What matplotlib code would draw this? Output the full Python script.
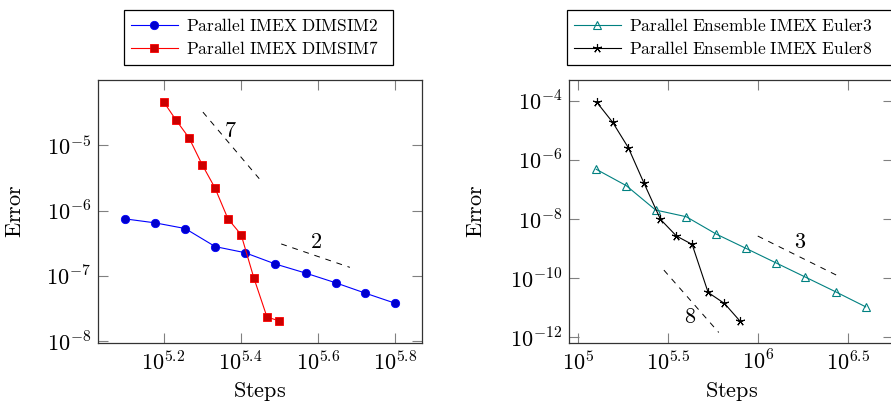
"""Error vs steps for parallel IMEX DIMSIM and ensemble IMEX Euler schemes."""

import matplotlib

matplotlib.use("Agg")
import matplotlib.pyplot as plt
import numpy as np
from matplotlib.ticker import FixedLocator, NullLocator

# left panel: log10(steps), log10(error)
dimsim2_logsteps = [5.100, 5.178, 5.256, 5.334, 5.411, 5.490, 5.568, 5.646, 5.723, 5.800]
dimsim2_logerr = [-6.128, -6.189, -6.276, -6.553, -6.646, -6.820, -6.958, -7.107, -7.266, -7.420]
dimsim7_logsteps = [5.200, 5.233, 5.266, 5.300, 5.333, 5.367, 5.401, 5.434, 5.468, 5.500]
dimsim7_logerr = [-4.333, -4.620, -4.887, -5.297, -5.651, -6.128, -6.369, -7.031, -7.631, -7.692]

# right panel
euler3_logsteps = [5.100, 5.267, 5.430, 5.600, 5.767, 5.933, 6.098, 6.263, 6.431, 6.598]
euler3_logerr = [-6.319, -6.872, -7.695, -7.921, -8.508, -8.993, -9.478, -9.963, -10.459, -10.967]
euler8_logsteps = [5.103, 5.191, 5.278, 5.365, 5.457, 5.546, 5.633, 5.722, 5.813, 5.898]
euler8_logerr = [-4.052, -4.729, -5.586, -6.782, -8.011, -8.575, -8.857, -10.482, -10.854, -11.441]

# slope guides: (log x pair, log y pair, label, label log x, label log y)
left_slopes = [
    ([5.302, 5.448], [-4.492, -5.512], "7", 5.372, -4.785),
    ([5.505, 5.683], [-6.512, -6.871], "2", 5.594, -6.477),
]
right_slopes = [
    ([5.998, 6.435], [-8.575, -9.895], "3", 6.235, -8.79),
    ([5.476, 5.781], [-9.726, -11.834], "8", 5.624, -11.306),
]

left_xticks = [5.2, 5.4, 5.6, 5.8]
left_yticks = [-8, -7, -6, -5]
right_xticks = [5.0, 5.5, 6.0, 6.5]
right_yticks = [-12, -10, -8, -6, -4]

plt.rcParams["mathtext.fontset"] = "cm"

W, H = 891, 404
BIG = 16


def tex(s):
    return r"$\mathrm{" + s.replace(" ", r"\ ") + "}$"


def exp_label(e):
    return r"$10^{" + f"{e:g}" + "}$"


def style_axes(ax, xticks, yticks, xlim, ylim, ylab_x):
    ax.set_xscale("log")
    ax.set_yscale("log")
    ax.set_xlim(10 ** xlim[0], 10 ** xlim[1])
    ax.set_ylim(10 ** ylim[0], 10 ** ylim[1])
    ax.xaxis.set_major_locator(FixedLocator([10.0 ** t for t in xticks]))
    ax.yaxis.set_major_locator(FixedLocator([10.0 ** t for t in yticks]))
    ax.xaxis.set_minor_locator(NullLocator())
    ax.yaxis.set_minor_locator(NullLocator())
    ax.set_xticklabels([exp_label(t) for t in xticks])
    ax.set_yticklabels([exp_label(t) for t in yticks])
    ax.tick_params(
        which="major", direction="in", length=7, width=0.8, color="#808080",
        top=True, right=True, labelsize=BIG, pad=5,
    )
    for sp in ax.spines.values():
        sp.set_linewidth(0.9)
        sp.set_color("#333333")
    ax.set_xlabel(tex("Steps"), fontsize=BIG, va="bottom")
    ax.xaxis.set_label_coords(0.5, (343 - 403) / 263)
    ax.set_ylabel(tex("Error"), fontsize=BIG, va="center")
    ax.yaxis.set_label_coords(ylab_x, 0.5)


def draw_slopes(ax, slopes):
    for xs, ys, lab, lx, ly in slopes:
        ax.plot(10 ** np.array(xs), 10 ** np.array(ys), color="black",
                lw=0.7, dashes=(6, 6))
        ax.text(10 ** lx, 10 ** ly, tex(lab), fontsize=BIG, ha="center", va="center")


fig = plt.figure(figsize=(W / 100, H / 100), dpi=100)
ax1 = fig.add_axes([98 / W, 1 - 343 / H, 324 / W, 263 / H])
ax2 = fig.add_axes([569.3 / W, 1 - 343 / H, 323.7 / W, 263 / H])

l1, = ax1.plot(10 ** np.array(dimsim2_logsteps), 10 ** np.array(dimsim2_logerr),
               color="blue", lw=0.8, marker="o", ms=6, mfc=(0, 0, 0.8), mec="blue",
               mew=0.6, label=tex("Parallel IMEX DIMSIM2"))
l2, = ax1.plot(10 ** np.array(dimsim7_logsteps), 10 ** np.array(dimsim7_logerr),
               color="red", lw=0.8, marker="s", ms=5.8, mfc=(0.8, 0, 0), mec="red",
               mew=0.6, label=tex("Parallel IMEX DIMSIM7"))
draw_slopes(ax1, left_slopes)
style_axes(ax1, left_xticks, left_yticks, (5.03, 5.87), (-8.03, -4.0),
           (15 - 98) / 324)

teal = (0, 0.5, 0.5)
l3, = ax2.plot(10 ** np.array(euler3_logsteps), 10 ** np.array(euler3_logerr),
               color=teal, lw=0.8, marker="^", ms=5.5, mfc="none", mec=teal,
               mew=0.8, label=tex("Parallel Ensemble IMEX Euler3"))
l4, = ax2.plot(10 ** np.array(euler8_logsteps), 10 ** np.array(euler8_logerr),
               color="black", lw=0.8, marker=(5, 2, 0), ms=6.5, mec="black",
               mew=0.8, label=tex("Parallel Ensemble IMEX Euler8"))
draw_slopes(ax2, right_slopes)
style_axes(ax2, right_xticks, right_yticks, (4.95, 6.75), (-12.19, -3.30),
           (476 - 569.3) / 323.7)

for handles, x0, x1 in (([l1, l2], 124, 393), ([l3, l4], 566.7, 900)):
    leg = fig.legend(handles=handles, loc="upper left", mode="expand",
                     bbox_to_anchor=(x0 / W, 1 - 67 / H, (x1 - x0) / W, 57 / H),
                     borderaxespad=0, fontsize=12.5, frameon=True, fancybox=False,
                     framealpha=1, edgecolor="black", handlelength=2.7,
                     handletextpad=0.5, labelspacing=0.3, borderpad=0.4)
    leg.get_frame().set_linewidth(0.9)

fig.savefig("out.png", dpi=100)
